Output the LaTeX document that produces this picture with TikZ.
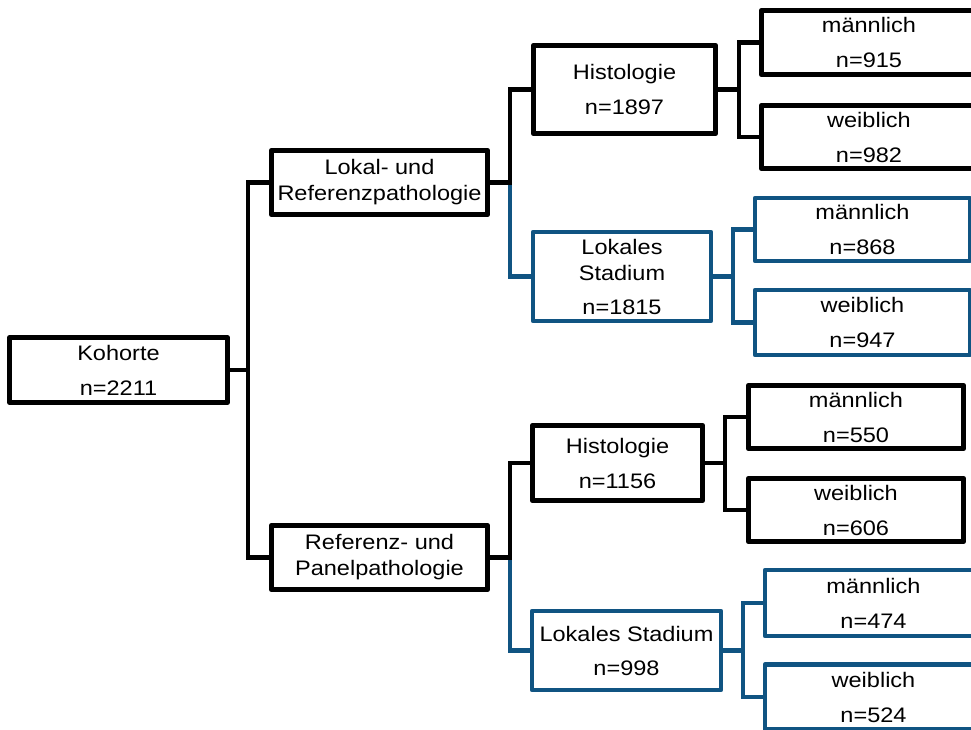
\documentclass[tikz,border=0pt]{standalone}
\usepackage{fontspec}
\setmainfont{Liberation Sans}[FakeStretch=1.12]
\definecolor{stadblue}{RGB}{16,84,130}

\begin{document}
\begin{tikzpicture}[x=1pt,y=-1pt,
  box/.style={draw=black, line width=4.8pt, line join=round, inner sep=0pt,
    align=center, fill=white, text=black, font=\fontsize{21}{26}\selectfont},
  bluebox/.style={box, draw=stadblue, line width=4.3pt},
  link/.style={draw=black, line width=4.8pt},
  bluelink/.style={draw=stadblue, line width=4.3pt}]

\useasboundingbox (0,0) rectangle (971,729);
\clip (0,0) rectangle (971,729);

% cohort root
\node[box, minimum width=218, minimum height=65] (K) at (118.5,370) {Kohorte\\[9pt]n=2211};

% pathology branches
\node[box, minimum width=216.5, minimum height=64.5] (L) at (379.5,182.5) {Lokal- und\\Referenzpathologie};
\node[box, minimum width=216.5, minimum height=64.5] (R) at (379.5,557.5) {Referenz- und\\Panelpathologie};

% histology / local stage
\node[box, minimum width=182.5, minimum height=88.5] (H1) at (624.5,89.5) {Histologie\\[9pt]n=1897};
\node[bluebox, minimum width=178, minimum height=89] (S1) at (622,276.5) {Lokales\\Stadium\\[8pt]n=1815};
\node[box, minimum width=170.5, minimum height=75.5] (H2) at (617.5,463) {Histologie\\[9pt]n=1156};
\node[bluebox, minimum width=189, minimum height=79] (S2) at (626.5,650.5) {Lokales Stadium\\[8pt]n=998};

% sex split
\node[box, minimum width=215.5, minimum height=64.5] (M1) at (869,42.5) {männlich\\[9pt]n=915};
\node[box, minimum width=215.5, minimum height=63.5] (W1) at (869,137) {weiblich\\[9pt]n=982};
\node[bluebox, minimum width=215, minimum height=63] (M2) at (862.5,229.5) {männlich\\[9pt]n=868};
\node[bluebox, minimum width=215, minimum height=65] (W2) at (862.5,322.5) {weiblich\\[9pt]n=947};
\node[box, minimum width=215.5, minimum height=63.5] (M3) at (856,417) {männlich\\[9pt]n=550};
\node[box, minimum width=215.5, minimum height=63.5] (W3) at (856,510) {weiblich\\[9pt]n=606};
\node[bluebox, minimum width=217, minimum height=66] (M4) at (873.5,603) {männlich\\[9pt]n=474};
\node[bluebox, minimum width=217, minimum height=65] (W4) at (873.5,697) {weiblich\\[9pt]n=524};

% junction points
\coordinate (kj) at (248,370);
\coordinate (lj) at (510,182.5);
\coordinate (rj) at (510,557.5);
\coordinate (h1j) at (739,89.5);
\coordinate (s1j) at (733,276.5);
\coordinate (h2j) at (725,463);
\coordinate (s2j) at (743,650.5);

% connectors
\draw[link] (K.east) -- (kj);
\draw[link] (L.west) -| (kj) |- (R.west);

\draw[bluelink] (lj) |- (S1.west);
\draw[link] (L.east) -- (lj) |- (H1.west);
\draw[bluelink] (rj) |- (S2.west);
\draw[link] (R.east) -- (rj) |- (H2.west);

\draw[link] (H1.east) -- (h1j);
\draw[link] (M1.west) -| (h1j) |- (W1.west);
\draw[bluelink] (S1.east) -- (s1j);
\draw[bluelink] (M2.west) -| (s1j) |- (W2.west);
\draw[link] (H2.east) -- (h2j);
\draw[link] (M3.west) -| (h2j) |- (W3.west);
\draw[bluelink] (S2.east) -- (s2j);
\draw[bluelink] (M4.west) -| (s2j) |- (W4.west);
\end{tikzpicture}
\end{document}
